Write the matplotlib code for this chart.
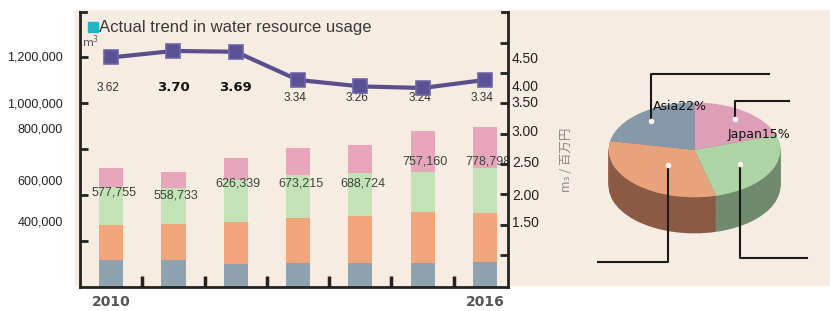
import numpy as np
import matplotlib
matplotlib.use('Agg')
import matplotlib.pyplot as plt
from matplotlib import font_manager
from matplotlib.patches import Rectangle

# data
years = ['2010', '2011', '2012', '2013', '2014', '2015', '2016']
year_labels = ['2010', '', '', '', '', '', '2016']
blue = [131000, 131000, 112000, 117000, 117000, 117000, 121000]
orange = [170000, 175000, 204000, 218000, 228000, 248000, 238000]
green = [184000, 175000, 204000, 209000, 209000, 194000, 218000]
pink = [93000, 78000, 106000, 129000, 135000, 198000, 202000]
totals = [577755, 558733, 626339, 673215, 688724, 757160, 778798]
intensity = [3.62, 3.70, 3.69, 3.34, 3.26, 3.24, 3.34]
left_labels = ['1,200,000', '1,000,000', '800,000', '600,000', '400,000']
right_labels = ['4.50', '4.00', '3.50', '3.00', '2.50', '2.00', '1.50']

pie_shares = [20, 26, 32, 22]
pie_labels = ['Japan15%', '', '', 'Asia22%']

names = {f.name for f in font_manager.fontManager.ttflist}
narrow = 'Liberation Sans Narrow' if 'Liberation Sans Narrow' in names else 'Liberation Sans'

beige = '#f7ece2'
c_blue, c_orange, c_green, c_pink = '#8fa2b0', '#f3a67c', '#c3e2b8', '#e8a6bd'

fig = plt.figure(figsize=(8.3, 3.11), dpi=100, facecolor='white')
fig.patches.append(Rectangle((75 / 830, 1 - 285 / 311), 755 / 830, 275 / 311,
                             transform=fig.transFigure, color=beige, zorder=-10))

ax = fig.add_axes([80 / 830, 1 - 287 / 311, 428 / 830, 275 / 311])
ax.set_facecolor('none')
x = np.arange(len(years))
w = 0.39
b0 = np.zeros(len(years))
for vals, col in [(blue, c_blue), (orange, c_orange), (green, c_green), (pink, c_pink)]:
    ax.bar(x, vals, w, bottom=b0, color=col, zorder=2)
    b0 = b0 + np.array(vals)
ax.set_xlim(-0.5, 6.37)
ax.set_ylim(0, 1335000)

for s in ['top', 'right']:
    ax.spines[s].set_visible(False)
for s in ['left', 'bottom']:
    ax.spines[s].set_linewidth(2)
    ax.spines[s].set_color('#222222')

ax.set_xticks(x, year_labels, fontsize=10, fontweight='bold', color='#555555')
ax.set_xticks(x[:-1] + 0.5, minor=True)
ax.tick_params(axis='x', which='major', length=0, pad=6)
ax.tick_params(axis='x', which='minor', direction='in', length=8, width=2.5, color='#222222')
ax.set_yticks([])
ax.set_yticks(np.arange(1, 6) * 223000, minor=True)
ax.tick_params(axis='y', which='minor', direction='in', length=6, width=2, color='#222222')
ax.plot([0, 0.015], [1, 1], transform=ax.transAxes, color='#222222', lw=2, clip_on=False)

left_pos = [0.833, 0.662, 0.571, 0.385, 0.236]
for lab, yf in zip(left_labels, left_pos):
    ax.text(-0.04, yf, lab, transform=ax.transAxes, ha='right', va='center',
            fontsize=9, family=narrow, color='#222222')

bar_lab_pos = [0.342, 0.331, 0.378, 0.375, 0.375, 0.455, 0.455]
for i, (t, yf) in enumerate(zip(totals, bar_lab_pos)):
    ax.text(i + 0.04, yf, f'{t:,}', transform=ax.get_xaxis_transform(), ha='center', va='center',
            fontsize=9, family=narrow, color='#3b4538', zorder=5)

# title
ax.plot([0.030], [0.945], marker='s', ms=7, color='#21b6c6', transform=ax.transAxes, clip_on=False)
ax.text(0.045, 0.945, 'Actual trend in water resource usage', transform=ax.transAxes,
        ha='left', va='center', fontsize=12, family='Liberation Sans', color='#3a3a3a')
ax.text(0.004, 0.893, 'm$^3$', transform=ax.transAxes, ha='left', va='center', fontsize=8, color='#555555')

# line on right axis
ax2 = ax.twinx()
ax2.plot(x, intensity, color='#5a4f8c', lw=3, marker='s', ms=10,
         mfc='#5b5296', mec='#6f66a8', mew=1.2, zorder=4)
ax2.set_ylim(0.768, 4.184)
for s in ['top', 'left', 'bottom']:
    ax2.spines[s].set_visible(False)
ax2.spines['right'].set_linewidth(2)
ax2.spines['right'].set_color('#222222')
ax2.set_yticks([])
ax2.set_yticks(np.linspace(1.166, 3.80, 8), minor=True)
ax2.tick_params(axis='y', which='minor', direction='in', length=6, width=2, color='#222222')
ax2.plot([0.985, 1], [1, 1], transform=ax2.transAxes, color='#222222', lw=2, clip_on=False)

right_pos = [0.829, 0.727, 0.669, 0.564, 0.451, 0.331, 0.233]
for lab, yf in zip(right_labels, right_pos):
    ax2.text(1.009, yf, lab, transform=ax2.transAxes, ha='left', va='center',
             fontsize=10, family=narrow, color='#222222')

line_lab_pos = [0.724, 0.724, 0.724, 0.687, 0.687, 0.687, 0.687]
bold_idx = [1, 2]
for i, (v, yf) in enumerate(zip(intensity, line_lab_pos)):
    if i in bold_idx:
        ax2.text(i, yf, f'{v:.2f}', transform=ax2.get_xaxis_transform(), ha='center', va='center',
                 fontsize=9.5, fontweight='bold', color='#111111')
    else:
        ax2.text(i - 0.05, yf, f'{v:.2f}', transform=ax2.get_xaxis_transform(), ha='center', va='center',
                 fontsize=8.5, family=narrow, color='#333333')

fig.text(566 / 830, 1 - 160 / 311, 'm₃ / 百万円', rotation=90, ha='center', va='center',
         fontsize=9, color='#8a8a8a', family=['Noto Sans CJK JP', 'DejaVu Sans'])

# 3D pie
pax = fig.add_axes([600 / 830, 1 - 240 / 311, 189 / 830, 147 / 311])
top_cols = ['#dc9fb7', '#aed3a5', '#e9a37c', '#8599ab']
side_cols = ['#9a6c80', '#6f8a6c', '#8b5a44', '#5f6f80']
depth = 0.76
for t in np.linspace(1, 0.02, 30):
    pax.pie(pie_shares, colors=side_cols, startangle=90, counterclock=False,
            center=(0, -depth * t), radius=1, wedgeprops=dict(linewidth=0))
wedges, _ = pax.pie(pie_shares, colors=top_cols, startangle=90, counterclock=False,
                    center=(0, 0), radius=1, wedgeprops=dict(linewidth=0))
pax.set_aspect('auto')
pax.set_xlim(-1.1, 1.1)
pax.set_ylim(-1.9, 1.2)
pax.axis('off')

dot_r = [0.8, 0.6, 0.45, 0.8]
elbow_v = [1.03, -2.27, -2.36, 1.6]
elbow_u = [1.105, 1.314, -1.128, 0.872]
for wd, r, ev, eu in zip(wedges, dot_r, elbow_v, elbow_u):
    ang = np.deg2rad((wd.theta1 + wd.theta2) / 2)
    du, dv = r * np.cos(ang), r * np.sin(ang)
    pax.plot([du, du, eu], [dv, ev, ev], color='#1a1a1a', lw=1.5, clip_on=False, zorder=5)
    pax.plot([du], [dv], marker='o', ms=3, color='#fff8ee', zorder=6)

lab_pos = [(0.756, 0.316), None, None, (-0.174, 0.905)]
for lab, p in zip(pie_labels, lab_pos):
    if lab:
        pax.text(p[0], p[1], lab, ha='center', va='center', fontsize=9, color='#111111', zorder=7)

fig.savefig('out.png', dpi=100, facecolor=fig.get_facecolor())
